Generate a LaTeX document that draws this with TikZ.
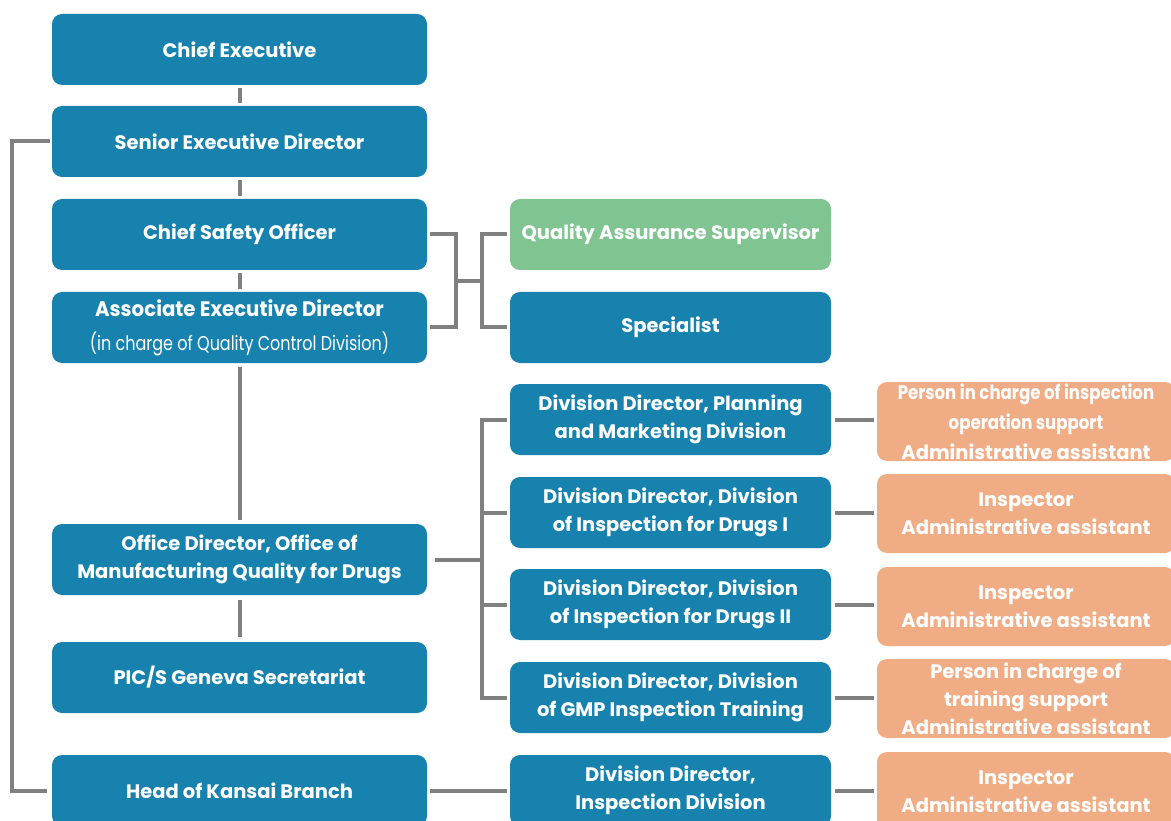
\documentclass[tikz,border=0pt]{standalone}
\usepackage{fontspec}
\setmainfont{Poppins}
\usetikzlibrary{calc}

\definecolor{postblue}{RGB}{23,130,173}
\definecolor{qagreen}{RGB}{127,196,145}
\definecolor{staffpeach}{RGB}{240,173,133}
\definecolor{linkgray}{RGB}{128,128,128}

\newcommand{\narrow}[2][0.8]{{\addfontfeature{FakeStretch=#1}#2}}

\tikzset{
  post/.style = {rectangle, rounded corners=10pt, fill=postblue, text=white,
                 inner sep=0pt, align=center,
                 font=\bfseries\fontsize{19.5}{28}\selectfont},
  leftpost/.style = {post, minimum width=375pt, minimum height=71pt},
  midpost/.style = {post, minimum width=321pt, minimum height=71pt},
  staff/.style = {post, fill=staffpeach, minimum width=298pt, minimum height=79pt},
  link/.style = {draw=linkgray, line width=4pt},
}

\begin{document}
\begin{tikzpicture}[x=1pt, y=-1pt]
  \clip (0,0) rectangle (1171,821);

  % left column
  \node[leftpost] (ce)     at (239.5, 49.5)  {Chief Executive};
  \node[leftpost] (sed)    at (239.5, 141.5) {Senior Executive Director};
  \node[leftpost] (cso)    at (239.5, 234.5) {Chief Safety Officer};
  \node[leftpost] (aed)    at (239.5, 327.5) {{\fontsize{21}{30}\selectfont\narrow[0.94]{Associate Executive Director}}\\[6pt]
                                               {\mdseries\fontsize{20}{26}\selectfont\narrow{(in charge of Quality Control Division)}}};
  \node[leftpost] (od)     at (239.5, 559.5) {Office Director, Office of\\Manufacturing Quality for Drugs};
  \node[leftpost] (pics)   at (239.5, 677.5) {PIC/S Geneva Secretariat};
  \node[leftpost] (kansai) at (239.5, 790.5) {Head of Kansai Branch};

  % middle column
  \node[midpost, fill=qagreen] (qas) at (670.5, 234.5) {Quality Assurance Supervisor};
  \node[midpost] (spec)  at (670.5, 327.5) {Specialist};
  \node[midpost] (plan)  at (670.5, 419.5) {Division Director, Planning\\and Marketing Division};
  \node[midpost] (drug1) at (670.5, 512.5) {Division Director, Division\\of Inspection for Drugs I};
  \node[midpost] (drug2) at (670.5, 604.5) {Division Director, Division\\of Inspection for Drugs II};
  \node[midpost] (gmp)   at (670.5, 697.5) {Division Director, Division\\of GMP Inspection Training};
  \node[midpost] (insp)  at (670.5, 790.5) {Division Director,\\Inspection Division};

  % staff column
  \node[staff] (sup1) at (1026, 421.5) {\narrow[0.85]{Person in charge of inspection}\\[2pt]
                                        \narrow[0.85]{operation support}\\[2pt]
                                        Administrative assistant};
  \node[staff] (sup2) at (1026, 513.5) {Inspector\\Administrative assistant};
  \node[staff] (sup3) at (1026, 606.5) {Inspector\\Administrative assistant};
  \node[staff] (sup4) at (1026, 698.5) {Person in charge of\\training support\\Administrative assistant};
  \node[staff] (sup5) at (1026, 791.5) {Inspector\\Administrative assistant};

  % chain of command
  \draw[link] ([yshift=-3pt]ce.south)  -- ([yshift=3pt]sed.north);
  \draw[link] ([yshift=-3pt]sed.south) -- ([yshift=3pt]cso.north);
  \draw[link] ([yshift=-3pt]cso.south) -- ([yshift=3pt]aed.north);
  \draw[link] ([yshift=-4pt]aed.south) -- ([yshift=4pt]od.north);
  \draw[link] ([yshift=-5pt]od.south)  -- ([yshift=5pt]pics.north);
  \draw[link] ([xshift=-2pt]sed.west) -- ++(-38,0) |- ([xshift=-5pt]kansai.west);

  % quality assurance bracket
  \draw[link] ([xshift=3pt]cso.east) -- ++(26,0) |- ([xshift=3pt]aed.east);
  \draw[link] ([xshift=-3pt]qas.west) -- ++(-25,0) |- ([xshift=-3pt]spec.west);
  \draw[link] ($(cso.east)!0.5!(aed.east)+(28,0)$) -- ($(qas.west)!0.5!(spec.west)+(-28,0)$);

  % divisions of the office
  \draw[link] ([xshift=8pt]od.east) -- ++(47,0);
  \draw[link] ([xshift=-3pt]plan.west) -- ++(-25,0) |- ([xshift=-3pt]gmp.west);
  \draw[link] ([xshift=-3pt]drug1.west) -- ++(-27,0);
  \draw[link] ([xshift=-3pt]drug2.west) -- ++(-27,0);
  \draw[link] ([xshift=3pt]kansai.east) -- ([xshift=-3pt]insp.west);

  % staff
  \foreach \dv/\st in {plan/sup1, drug1/sup2, drug2/sup3, gmp/sup4, insp/sup5}
    \draw[link] ([xshift=4pt]\dv.east) -- ([xshift=-3pt]\dv.east -| \st.west);
\end{tikzpicture}
\end{document}
